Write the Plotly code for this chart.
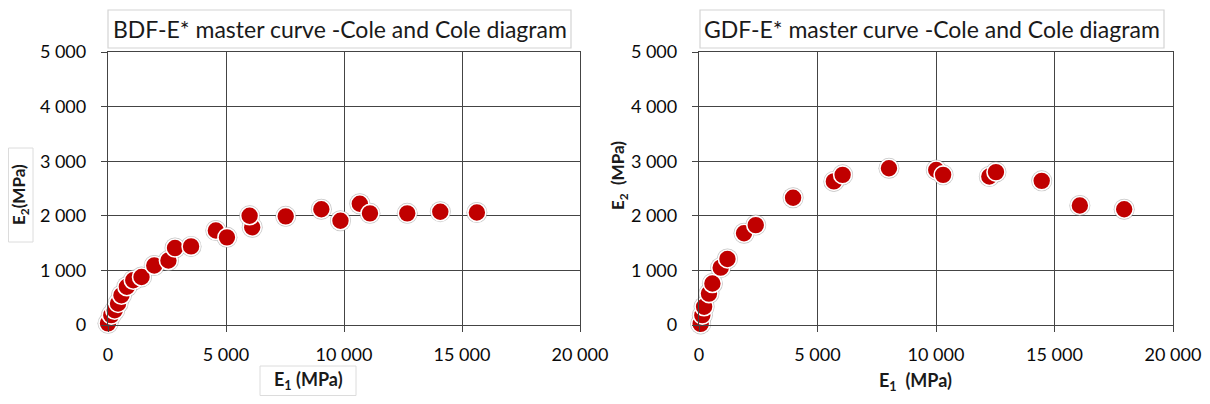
import plotly.graph_objects as go

# ---- data ----
bdf_e1 = [0, 140, 285, 425, 570, 800, 1070, 1420, 1960, 2560, 2840, 3520, 4570, 5040,
          6110, 6000, 7530, 9040, 9850, 10670, 11100, 12680, 14080, 15630]
bdf_e2 = [30, 180, 270, 395, 545, 700, 820, 880, 1090, 1180, 1410, 1440, 1730, 1605,
          1790, 2000, 1990, 2120, 1910, 2220, 2045, 2045, 2075, 2060]

gdf_e1 = [70, 140, 215, 420, 565, 915, 1200, 1900, 2395, 3970, 5690, 6060, 8015,
          10010, 10300, 12250, 12530, 14460, 16070, 17940]
gdf_e2 = [20, 180, 335, 575, 760, 1050, 1210, 1680, 1830, 2330, 2630, 2750, 2870,
          2840, 2750, 2720, 2800, 2640, 2190, 2120]

x_ticks = [0, 5000, 10000, 15000, 20000]
y_ticks = [0, 1000, 2000, 3000, 4000, 5000]

title_left = "BDF-E* master curve -Cole and Cole diagram"
title_right = "GDF-E* master curve -Cole and Cole diagram"

FONT = "Lato, 'Open Sans', sans-serif"
RED = "#C00000"
GRID = "#444444"

# the page body has an 8px margin: size the figure so the page is exactly 1210x404
OFF = 8
W, H = 1210 - OFF, 404 - 2 * OFF


def px(X):
    return (X - OFF) / W


def py(Y):
    return 1 - (Y - OFF) / H


fig = go.Figure()

for xs, ys, xa, ya in [(bdf_e1, bdf_e2, "x", "y"), (gdf_e1, gdf_e2, "x2", "y2")]:
    # soft grey halo
    fig.add_trace(go.Scatter(x=xs, y=ys, xaxis=xa, yaxis=ya, mode="markers",
                             marker=dict(size=21, color="rgba(150,150,150,0.55)", line=dict(width=0)),
                             cliponaxis=False, showlegend=False, hoverinfo="skip"))
    fig.add_trace(go.Scatter(x=xs, y=ys, xaxis=xa, yaxis=ya, mode="markers",
                             marker=dict(size=18, color=RED, line=dict(color="white", width=1.6)),
                             cliponaxis=False, showlegend=False))

axis_common = dict(showgrid=True, gridcolor=GRID, gridwidth=1.3, showline=True, mirror=True,
                   linecolor=GRID, linewidth=1.3, zeroline=False, ticks="outside", ticklen=6,
                   tickcolor=GRID, tickwidth=1.3, tickformat=",d", automargin=False,
                   tickfont=dict(family=FONT, size=18, color="#0a0a0a"))

fig.update_layout(
    width=W, height=H, margin=dict(l=0, r=0, t=0, b=0, autoexpand=False),
    paper_bgcolor="white", plot_bgcolor="white", separators=". ",
    showlegend=False,
    xaxis=dict(domain=[px(108), px(580)], range=[0, 20000], tickvals=x_ticks,
               anchor="y", ticklabelstandoff=7, **axis_common),
    yaxis=dict(domain=[py(325), py(52)], range=[0, 5000], tickvals=y_ticks,
               anchor="x", ticklabelstandoff=11, **axis_common),
    xaxis2=dict(domain=[px(699), px(1173)], range=[0, 20000], tickvals=x_ticks,
                anchor="y2", ticklabelstandoff=7, **axis_common),
    yaxis2=dict(domain=[py(325), py(52)], range=[0, 5000], tickvals=y_ticks,
                anchor="x2", ticklabelstandoff=11, **axis_common),
)

# title boxes
for x0, x1 in [(108, 571), (700, 1164)]:
    fig.add_shape(type="rect", xref="paper", yref="paper",
                  x0=px(x0), x1=px(x1), y0=py(48), y1=py(10),
                  line=dict(color="#d4d4d4", width=1.2), fillcolor="white", layer="above")
# axis-title boxes (left chart)
fig.add_shape(type="rect", xref="paper", yref="paper", x0=px(8.5), x1=px(33),
              y0=py(242), y1=py(148), line=dict(color="#dcdcdc", width=1), layer="below")
fig.add_shape(type="rect", xref="paper", yref="paper", x0=px(260), x1=px(356),
              y0=py(395.5), y1=py(366), line=dict(color="#dcdcdc", width=1), layer="below")

ann = [
    dict(text=title_left, X=339.5, Y=29, size=23, angle=0),
    dict(text=title_right, X=932, Y=29, size=23, angle=0),
    dict(text="<b>E<sub>2</sub>(MPa)</b>", X=20, Y=195, size=17, angle=-90),
    dict(text="<b>E<sub>1</sub> (MPa)</b>", X=308, Y=380, size=18, angle=0),
    dict(text="<b>E<sub>2</sub>  (MPa)</b>", X=619, Y=176, size=17, angle=-90),
    dict(text="<b>E<sub>1</sub>  (MPa)</b>", X=915, Y=381, size=18, angle=0),
]
for a in ann:
    fig.add_annotation(text=a["text"], x=px(a["X"]), y=py(a["Y"]), xref="paper", yref="paper",
                       showarrow=False, textangle=a["angle"], xanchor="center", yanchor="middle",
                       font=dict(family=FONT, size=a["size"], color="#1a1a1a"))

fig.write_html("out.html")
